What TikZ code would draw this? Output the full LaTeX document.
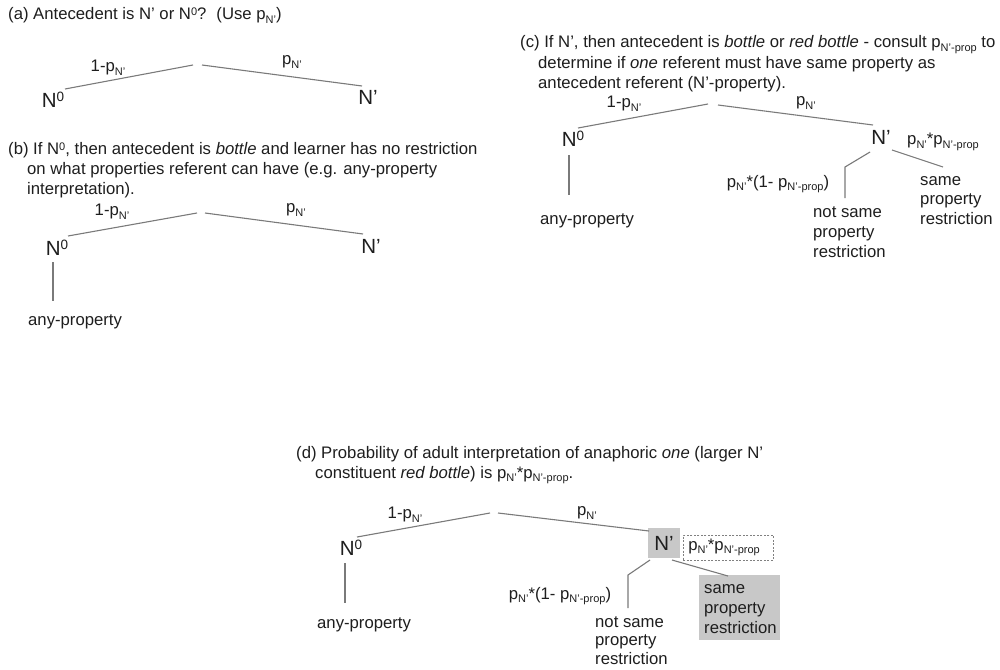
\documentclass[tikz,border=0pt]{standalone}
\usepackage{fontspec}
\setmainfont{Liberation Sans}
\definecolor{textc}{HTML}{1E1E1E}
\definecolor{linec}{HTML}{7A7A7A}
\definecolor{boxgrey}{HTML}{C8C8C8}
\definecolor{dashc}{HTML}{808080}
\newcommand\sbs[1]{\raisebox{-0.22em}{\fontsize{11}{11}\selectfont #1}}
\newcommand\sps[1]{\raisebox{4pt}{\fontsize{11}{11}\selectfont #1}}
\newcommand\nsup[1]{\raisebox{5.5pt}{\fontsize{13.5}{13.5}\selectfont #1}}
\begin{document}
\begin{tikzpicture}[x=1pt,y=-1pt,
  txt/.style={inner sep=0pt, anchor=base west, font=\fontsize{16.7}{20}\selectfont, text=textc},
  lbl/.style={inner sep=0pt, font=\fontsize{16.7}{20}\selectfont, text=textc},
  nd/.style={inner sep=0pt, font=\fontsize{20.5}{24}\selectfont, text=textc},
  branch/.style={draw=linec, line width=1.1pt},
  shade/.style={fill=boxgrey, draw=none, inner sep=0pt},
  dbox/.style={draw=dashc, dashed, line width=0.6pt, dash pattern=on 2pt off 1.5pt, inner xsep=5pt, inner ysep=0pt, text width=80pt, align=left, minimum height=25pt, anchor=west, font=\fontsize{16.7}{20}\selectfont, text=textc}
]
\useasboundingbox[fill=white] (0,0) rectangle (1000,669);

% ---------- (a) ----------
\node[txt] (aT) at (8,19.5) {(a) Antecedent is N’ or N\sps{0}?\hspace{0.6em}(Use p\sbs{N’})};
\node[nd] (aN0) at (53,100) {N\nsup{0}};
\node[nd] (aNp) at (368,97) {N’};
\node[lbl] (aL1) at (108,68) {1-p\sbs{N’}};
\node[lbl] (aL2) at (292,62) {p\sbs{N’}};
\coordinate (aN0e) at (65,89);
\coordinate (aApL) at (193,65);
\coordinate (aApR) at (202,65);
\coordinate (aNpe) at (362,86);
\draw[branch] (aN0e) -- (aApL);
\draw[branch] (aApR) -- (aNpe);

% ---------- (b) ----------
\node[txt] (bT1) at (8,154) {(b) If N\sps{0}, then antecedent is \textit{bottle} and learner has no restriction};
\node[txt] (bT2) at (27,174) {on what properties referent can have (e.g. any-property};
\node[txt] (bT3) at (27,194) {interpretation).};
\node[nd] (bN0) at (57,248) {N\nsup{0}};
\node[nd] (bNp) at (371,246) {N’};
\node[lbl] (bL1) at (112,212) {1-p\sbs{N’}};
\node[lbl] (bL2) at (296,210) {p\sbs{N’}};
\node[txt] (bAny) at (28,325) {any-property};
\coordinate (bN0e) at (68,236);
\coordinate (bApL) at (197,213);
\coordinate (bApR) at (205,213);
\coordinate (bNpe) at (363,234);
\coordinate (bV1) at (53,262);
\coordinate (bV2) at (53,301);
\draw[branch] (bN0e) -- (bApL);
\draw[branch] (bApR) -- (bNpe);
\draw[branch] (bV1) -- (bV2);

% ---------- (c) ----------
\node[txt] (cT1) at (520,48) {(c) If N’, then antecedent is \textit{bottle} or \textit{red bottle} - consult p\sbs{N’-prop} to};
\node[txt] (cT2) at (538,68) {determine if \textit{one} referent must have same property as};
\node[txt] (cT3) at (538,88) {antecedent referent (N’-property).};
\node[nd] (cN0) at (573,139) {N\nsup{0}};
\node[nd] (cNp) at (881,137) {N’};
\node[lbl] (cL1) at (624,104) {1-p\sbs{N’}};
\node[lbl] (cL2) at (806,103) {p\sbs{N’}};
\node[lbl, anchor=west] (cPP) at (907,142) {p\sbs{N’}*p\sbs{N’-prop}};
\node[lbl] (cPNS) at (778,184) {p\sbs{N’}*(1- p\sbs{N’-prop})};
\node[txt] (cAny) at (540,224) {any-property};
\node[txt] (cNS1) at (813,217) {not same};
\node[txt] (cNS2) at (813,237) {property};
\node[txt] (cNS3) at (813,257) {restriction};
\node[txt] (cS1) at (920,185) {same};
\node[txt] (cS2) at (920,204) {property};
\node[txt] (cS3) at (920,224) {restriction};
\coordinate (cN0e) at (578,128);
\coordinate (cApL) at (708,104);
\coordinate (cApR) at (718,105);
\coordinate (cNpe) at (873,125);
\coordinate (cV1) at (569,155);
\coordinate (cV2) at (569,195);
\coordinate (cB1) at (870,152);
\coordinate (cB2) at (845,167);
\coordinate (cB3) at (845,198);
\coordinate (cS0) at (892,150);
\coordinate (cSe) at (943,167);
\draw[branch] (cN0e) -- (cApL);
\draw[branch] (cApR) -- (cNpe);
\draw[branch] (cV1) -- (cV2);
\draw[branch] (cB1) -- (cB2) -- (cB3);
\draw[branch] (cS0) -- (cSe);

% ---------- (d) ----------
\node[txt] (dT1) at (296,458) {(d) Probability of adult interpretation of anaphoric \textit{one} (larger N’};
\node[txt] (dT2) at (315,478) {constituent \textit{red bottle}) is p\sbs{N’}*p\sbs{N’-prop}.};
\node[nd] (dN0) at (351,548) {N\nsup{0}};
\node[nd, shade, minimum width=32pt, minimum height=30pt] (dNp) at (664,543) {N’};
\node[dbox] (dPP) at (683,547.5) {p\sbs{N’}*p\sbs{N’-prop}};
\node[lbl] (dL1) at (405,515) {1-p\sbs{N’}};
\node[lbl] (dL2) at (587,513) {p\sbs{N’}};
\node[lbl] (dPNS) at (560,596) {p\sbs{N’}*(1- p\sbs{N’-prop})};
\node[txt] (dAny) at (317,628) {any-property};
\node[txt] (dNS1) at (595,627) {not same};
\node[txt] (dNS2) at (595,645) {property};
\node[txt] (dNS3) at (595,664) {restriction};
\node[shade, minimum width=81pt, minimum height=65pt] (dSbox) at (739.5,607.5) {};
\node[txt] (dS1) at (704,593) {same};
\node[txt] (dS2) at (704,613) {property};
\node[txt] (dS3) at (704,633) {restriction};
\coordinate (dN0e) at (357,537);
\coordinate (dApL) at (490,513);
\coordinate (dApR) at (498,513);
\coordinate (dNpe) at (649,531);
\coordinate (dV1) at (345,563);
\coordinate (dV2) at (345,603);
\coordinate (dB1) at (650,560);
\coordinate (dB2) at (628,575);
\coordinate (dB3) at (628,608);
\coordinate (dS0) at (672,560);
\coordinate (dSe) at (728,576);
\draw[branch] (dN0e) -- (dApL);
\draw[branch] (dApR) -- (dNpe);
\draw[branch] (dV1) -- (dV2);
\draw[branch] (dB1) -- (dB2) -- (dB3);
\draw[branch] (dS0) -- (dSe);
\end{tikzpicture}
\end{document}
